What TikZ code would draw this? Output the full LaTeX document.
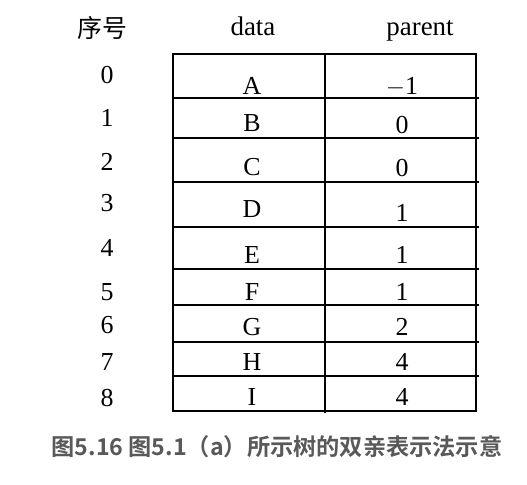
\documentclass[tikz,border=0pt]{standalone}
\usepackage{fontspec}
\setmainfont{Liberation Serif}
\newfontfamily\cjkserif{Noto Sans CJK SC}
\newfontfamily\cjkbold{Noto Sans CJK SC Bold}
\definecolor{capgray}{HTML}{595959}
\begin{document}
\begin{tikzpicture}[x=1bp,y=-1bp,
  cell/.style={font=\fontsize{26}{26}\selectfont, inner sep=0pt, anchor=center,
    text height=17.7bp, text depth=0pt},
  head/.style={font=\fontsize{27}{27}\selectfont, inner sep=0pt, anchor=center,
    text height=18.4bp, text depth=0pt},
  grid/.style={line width=1.6bp, draw=black}]
\useasboundingbox (0,0) rectangle (527,485);
% header
\node[inner sep=0pt] (h0) at (102,28) {\cjkserif\fontsize{25}{25}\selectfont 序号};
\node[head] (h1) at (253,26) {data};
\node[head] (h2) at (420,26) {parent};
% table lines
\draw[grid] (173,54) rectangle (476,411);
\draw[grid] (325,54) -- (325,413);
\foreach \y in {98,138,182,227,269,305,342,376}
  \draw[grid] (173,\y) -- (479,\y);
% rows
\foreach \i/\iy/\d/\dy/\p/\py in {
  0/75/A/86/$-$1/86,
  1/118/B/123/0/125,
  2/162/C/167/0/168,
  3/203/D/209/1/213,
  4/248/E/255/1/255,
  5/292/F/292/1/292,
  6/325/G/327/2/327,
  7/362/H/362/4/362,
  8/398/I/397/4/397}{
  \node[cell] (n\i) at (107,\iy) {\i};
  \node[cell] (d\i) at (252,\dy) {\d};
  \node[cell] (p\i) at (402,\py) {\p};
}
\node[inner sep=0pt, text=capgray] (cap) at (277,447)
  {\cjkbold\fontsize{23.3}{23.3}\selectfont 图5.16 图5.1（a）所示树的双亲表示法示意};
\end{tikzpicture}
\end{document}
